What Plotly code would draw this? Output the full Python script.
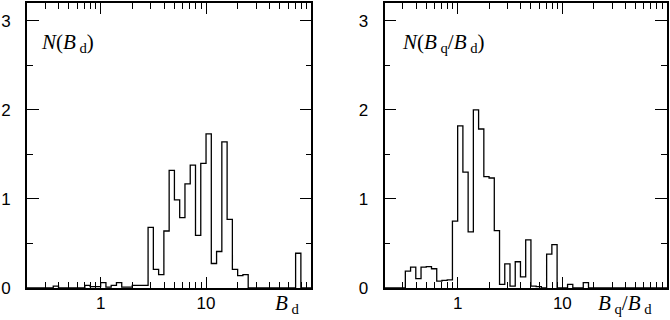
import math

import plotly.graph_objects as go

# histogram bins: 54 bins of 0.05 dex from 10^-0.7 to 10^2
LOG_START = -0.7
BIN_DEX = 0.05

# N(B_d), one value per bin
n_bd = [
    0, 0, 0, 0, 0, 0.02, 0, 0, 0, 0, 0,
    0.03, 0.015, 0.015, 0.06, 0.01, 0.03, 0.06, 0.01, 0.01, 0.03, 0.03, 0.03,
    0.68, 0.21, 0.15, 0.64, 1.32, 0.99, 0.79, 1.17, 1.38, 0.59, 1.40, 1.73,
    0.275, 0.41, 1.64, 0.77, 0.21, 0.14, 0.15,
    0, 0, 0, 0, 0, 0, 0, 0, 0, 0.39, 0, 0,
]

# N(B_q/B_d), one value per bin
n_bq_bd = [
    0, 0, 0, 0,
    0.19, 0.235, 0.105, 0.235, 0.24, 0.216, 0.078, 0.085, 0.092,
    0.75, 1.82, 1.30, 0.63, 2.0, 1.785, 1.25, 1.235, 0.645, 0.04, 0.27, 0.02,
    0.295, 0.125, 0.54, 0.02, 0.015, 0, 0.38, 0.487, 0, 0, 0.04, 0, 0, 0.06,
    0, 0, 0, 0, 0, 0, 0, 0, 0, 0, 0, 0, 0, 0, 0,
]

x_major = [1, 10]
x_major_text = ["1", "10"]
x_minor = [0.3, 0.4, 0.5, 0.6, 0.7, 0.8, 0.9,
           2, 3, 4, 5, 6, 7, 8, 9,
           20, 30, 40, 50, 60, 70, 80, 90]
y_major = [0, 1, 2, 3]
y_minor = [0.5, 1.5, 2.5]

SERIF = "Liberation Serif"
SANS = "Liberation Sans"


def step_trace(values: list[float], xaxis: str) -> go.Scatter:
    edges = [10 ** (LOG_START + BIN_DEX * k) for k in range(len(values) + 1)]
    return go.Scatter(
        x=edges,
        y=list(values) + [values[-1]],
        mode="lines",
        line=dict(color="black", width=1.3, shape="hv"),
        xaxis=xaxis,
        yaxis=xaxis.replace("x", "y"),
        showlegend=False,
        hoverinfo="skip",
    )


def x_axis(domain: list[float], anchor: str) -> dict:
    return dict(
        type="log",
        domain=domain,
        anchor=anchor,
        range=[math.log10(0.2), 2],
        tickmode="array",
        tickvals=x_major,
        ticktext=x_major_text,
        ticks="inside",
        ticklen=11,
        tickwidth=1.3,
        tickcolor="black",
        ticklabelstandoff=-1,
        minor=dict(tickmode="array", tickvals=x_minor, ticks="inside",
                   ticklen=6, tickwidth=1.2, tickcolor="black", showgrid=False),
        showline=True,
        linecolor="black",
        linewidth=1.6,
        mirror="allticks",
        showgrid=False,
        zeroline=False,
        tickfont=dict(family=SANS, size=17, color="black"),
    )


def y_axis(anchor: str) -> dict:
    return dict(
        anchor=anchor,
        range=[0, 3.2],
        tickmode="array",
        tickvals=y_major,
        ticks="inside",
        ticklen=12,
        tickwidth=1.3,
        tickcolor="black",
        ticklabelstandoff=11,
        minor=dict(tickmode="array", tickvals=y_minor, ticks="inside",
                   ticklen=6, tickwidth=1.2, tickcolor="black", showgrid=False),
        showline=True,
        linecolor="black",
        linewidth=1.6,
        mirror="allticks",
        showgrid=False,
        zeroline=False,
        tickfont=dict(family=SANS, size=17, color="black"),
    )


def label(text: str, xref: str, yref: str, x: float, y: float) -> dict:
    return dict(
        text=text, xref=xref, yref=yref, x=x, y=y,
        xanchor="left", yanchor="middle", showarrow=False,
        font=dict(family=SERIF, size=21, color="black"),
    )


def main() -> None:
    fig = go.Figure([step_trace(n_bd, "x"), step_trace(n_bq_bd, "x2")])

    fig.update_layout(
        width=670,
        height=320,
        margin=dict(l=20, r=2, t=1, b=32),
        paper_bgcolor="white",
        plot_bgcolor="white",
        xaxis=x_axis([0, 0.4444], "y"),
        yaxis=y_axis("x"),
        xaxis2=x_axis([0.5586, 1], "y2"),
        yaxis2=y_axis("x2"),
        annotations=[
            label("<i>N</i>(<i>B</i><sub> d</sub>)", "x domain", "y domain", 0.042, 0.86),
            label("<i>N</i>(<i>B</i><sub> q</sub>/<i>B</i><sub> d</sub>)",
                  "x2 domain", "y2 domain", 0.055, 0.86),
            label("<i>B</i><sub> d</sub>", "x domain", "y domain", 0.865, -0.055),
            label("<i>B</i><sub> q</sub>/<i>B</i><sub> d</sub>",
                  "x2 domain", "y2 domain", 0.75, -0.055),
        ],
    )

    # the page body has a default 8px margin; drop it so the figure sits at 0,0
    fig.write_html(
        "out.html",
        config={"displayModeBar": False},
        post_script="document.body.style.margin='0';",
    )


if __name__ == "__main__":
    main()
